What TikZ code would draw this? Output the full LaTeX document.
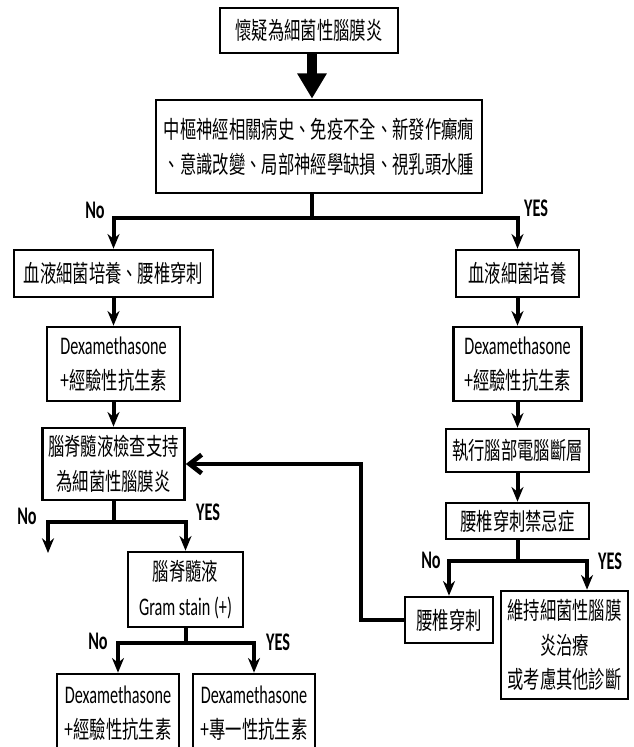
\documentclass[tikz,border=0pt]{standalone}
\usepackage{fontspec}
\setmainfont{Carlito}[FakeStretch=0.64]
\newfontfamily\cjk{Noto Sans CJK TC}[FakeStretch=0.68]
\newcommand\lat{\rmfamily\fontsize{19}{26}\selectfont}
\usetikzlibrary{arrows.meta,positioning}

\begin{document}
\begin{tikzpicture}[x=0.75pt,y=-0.75pt,
  box/.style={draw,line width=2pt,align=center,inner sep=0pt,
    font=\cjk\fontsize{18}{26}\selectfont},
  sz/.style 2 args={minimum width=#1*0.75pt,minimum height=#2*0.75pt},
  link/.style={line width=3pt},
  arr/.style={link,-{Stealth[length=11pt,width=9pt]}},
  yn/.style={font=\bfseries\fontsize{19}{22}\selectfont}]

  \useasboundingbox (0,0) rectangle (633,747);

  \node[box,sz={178}{45}] (susp) at (309,30.5) {懷疑為細菌性腦膜炎};
  \node[box,sz={326}{93}] (hist) at (319,146.5)
    {中樞神經相關病史、免疫不全、新發作癲癇\\、意識改變、局部神經學缺損、視乳頭水腫};

  \node[box,sz={199}{47}] (bcl) at (113.5,273.5) {血液細菌培養、腰椎穿刺};
  \node[box,sz={133}{74}] (dexl) at (113.5,364) {{\lat Dexamethasone}\\+經驗性抗生素};
  \node[box,sz={142}{72}] (csf) at (113.5,464) {腦脊髓液檢查支持\\為細菌性腦膜炎};
  \node[box,sz={115}{75}] (gram) at (185.5,589.5) {腦脊髓液\\{\lat Gram stain (+)}};
  \node[box,sz={122}{78}] (empl) at (118,713) {{\lat Dexamethasone}\\+經驗性抗生素};
  \node[box,sz={122}{78}] (spec) at (254,713) {{\lat Dexamethasone}\\+專一性抗生素};

  \node[box,sz={123}{47}] (bcr) at (517.5,273.5) {血液細菌培養};
  \node[box,sz={128}{74}] (dexr) at (517.5,364) {{\lat Dexamethasone}\\+經驗性抗生素};
  \node[box,sz={143}{43}] (ct) at (517.5,450.5) {執行腦部電腦斷層};
  \node[box,sz={143}{36}] (contra) at (517.5,521) {腰椎穿刺禁忌症};
  \node[box,sz={88}{46}] (lp) at (449,620) {腰椎穿刺};
  \node[box,sz={127}{108}] (keep) at (564.5,645) {維持細菌性腦膜\\炎治療\\或考慮其他診斷};

  \coordinate (fork1) at (312,218);
  \coordinate (fork2) at (517.5,561);
  \coordinate (fork3) at (113.5,522);
  \coordinate (fork4) at (185.5,643);
  \coordinate (nocsf) at (48,553);
  \coordinate (turn) at (361,464);

  \draw[line width=8pt,-{Triangle[length=19pt,width=21pt]}] (fork1 |- susp.south) -- (fork1 |- hist.north);

  \draw[link] (fork1 |- hist.south) -- (fork1);
  \draw[arr] (fork1) -| (bcl.north);
  \draw[arr] (fork1) -| (bcr.north);
  \node[yn] (no1) at (95,210) {No};
  \node[yn] (yes1) at (536,208) {YES};

  \draw[arr] (bcl) -- (dexl);
  \draw[arr] (dexl) -- (csf);
  \draw[arr] (bcr) -- (dexr);
  \draw[arr] (dexr) -- (ct);
  \draw[arr] (ct) -- (contra);

  \draw[link] (contra) -- (fork2);
  \draw[arr] (fork2) -| (lp.north);
  \draw[arr] (fork2) -| ([xshift=16.9pt]keep.north);
  \node[yn] (no2) at (431,560) {No};
  \node[yn] (yes2) at (610,561) {YES};

  \draw[line width=3.5pt,-{Straight Barb[length=9pt,width=14pt]}] (lp.west) -| (turn) -- (csf.east);

  \draw[link] (csf) -- (fork3);
  \draw[arr] (fork3) -| (nocsf);
  \draw[arr] (fork3) -| (gram.north);
  \node[yn] (no3) at (27,516) {No};
  \node[yn] (yes3) at (208,512) {YES};

  \draw[link] (gram) -- (fork4);
  \draw[arr] (fork4) -| (empl.north);
  \draw[arr] (fork4) -| (spec.north);
  \node[yn] (no4) at (98,641) {No};
  \node[yn] (yes4) at (278,642) {YES};

\end{tikzpicture}
\end{document}
